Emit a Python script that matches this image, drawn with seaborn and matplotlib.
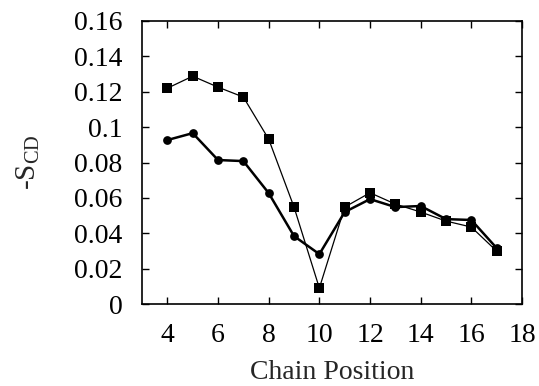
import matplotlib
matplotlib.use("Agg")
import matplotlib.pyplot as plt
import seaborn as sns
import pandas as pd

positions = [4, 5, 6, 7, 8, 9, 10, 11, 12, 13, 14, 15, 16, 17]
squares = [0.122, 0.1288, 0.1226, 0.117, 0.0932, 0.0548, 0.009, 0.0548, 0.0629, 0.0565, 0.052, 0.0469, 0.0435, 0.0299]
circles = [0.0927, 0.0966, 0.0814, 0.0808, 0.0627, 0.0384, 0.0282, 0.052, 0.0593, 0.0548, 0.0554, 0.048, 0.0475, 0.0316]
xticks = [4, 6, 8, 10, 12, 14, 16, 18]
yticks = [0, 0.02, 0.04, 0.06, 0.08, 0.1, 0.12, 0.14, 0.16]
ytick_labels = ["0", "0.02", "0.04", "0.06", "0.08", "0.1", "0.12", "0.14", "0.16"]

sns.set_theme(style="ticks")
plt.rcParams['font.family'] = ['Liberation Serif', 'DejaVu Serif']
plt.rcParams['mathtext.fontset'] = 'custom'
plt.rcParams['mathtext.rm'] = 'Liberation Serif'
plt.rcParams['mathtext.it'] = 'Liberation Serif'

fig = plt.figure(figsize=(5.39, 3.86), dpi=100)
ax = fig.add_axes([0.2635, 0.2124, 0.705, 0.7332])

df_sq = pd.DataFrame({"x": positions, "y": squares})
df_ci = pd.DataFrame({"x": positions, "y": circles})

sns.lineplot(data=df_sq, x="x", y="y", ax=ax, color="black", linewidth=0.9,
             marker="s", markersize=7, markeredgewidth=0)
sns.lineplot(data=df_ci, x="x", y="y", ax=ax, color="black", linewidth=1.8,
             marker="o", markersize=6.3, markeredgewidth=0)

ax.set_xlim(3, 18)
ax.set_ylim(0, 0.16)
ax.set_xticks(xticks)
ax.set_xticklabels([str(t) for t in xticks])
ax.set_yticks(yticks)
ax.set_yticklabels(ytick_labels)
ax.tick_params(direction="in", length=5, width=1, top=True, right=True,
               labelsize=20, colors="black")
ax.tick_params(axis="x", pad=14)
ax.tick_params(axis="y", pad=14)
for s in ax.spines.values():
    s.set_linewidth(1.2)
    s.set_color("black")
ax.set_xlabel("Chain Position", fontsize=20, labelpad=8)
ax.set_ylabel(r"-S$_{\mathrm{CD}}$", fontsize=21, labelpad=23)

fig.savefig("out.png", dpi=100)
